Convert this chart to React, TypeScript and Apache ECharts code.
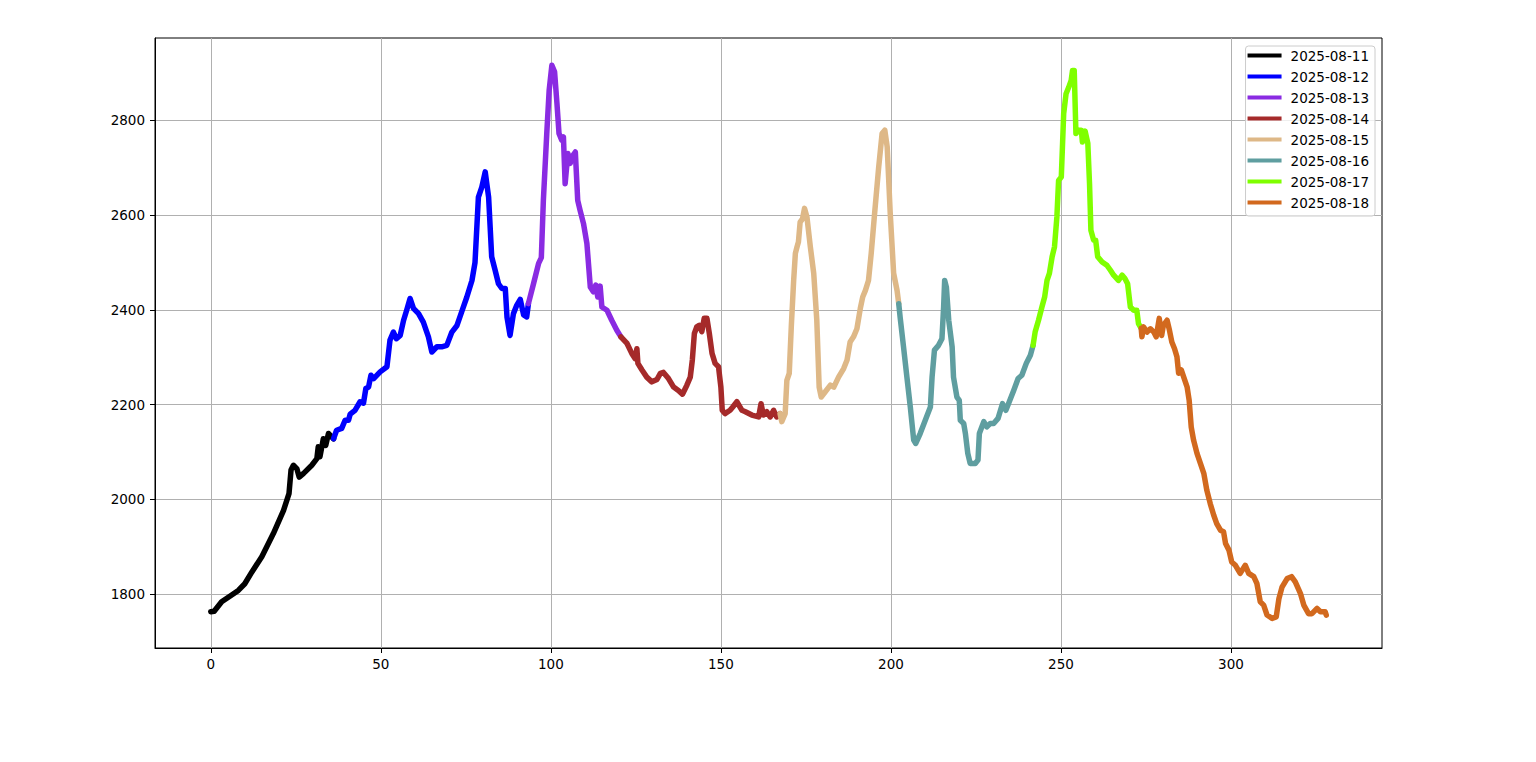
import React, { useEffect, useRef } from "react";
import * as echarts from "echarts";

const dayNames = ["2025-08-11", "2025-08-12", "2025-08-13", "2025-08-14", "2025-08-15", "2025-08-16", "2025-08-17", "2025-08-18"];
const dayColors = ["#000000", "#0000ff", "#8a2be2", "#a52a2a", "#deb887", "#5f9ea0", "#7fff00", "#d2691e"];

const xTicks = [0, 50, 100, 150, 200, 250, 300];
const yTicks = [1800, 2000, 2200, 2400, 2600, 2800];

const d0811: [number, number][] = [
  [0, 1763], [1, 1764], [3.2, 1784], [5.5, 1795], [8.1, 1808], [10, 1822], [12.1, 1847], [15, 1879],
  [18.4, 1928], [21.4, 1977], [23, 2012], [23.6, 2062], [24.3, 2072], [25.3, 2065], [26, 2047],
  [27.3, 2055], [29.7, 2072], [31.2, 2086], [31.6, 2111], [32.1, 2090], [33.1, 2128], [33.8, 2114],
  [34.6, 2139], [36.1, 2128],
];
const d0812: [number, number][] = [
  [36.1, 2128], [37, 2146], [38.5, 2150], [39.5, 2167], [40.5, 2167], [41, 2180], [42.4, 2188],
  [43.9, 2206], [44.9, 2203], [45.6, 2234], [46.4, 2237], [47.1, 2262], [47.9, 2255], [49.8, 2269],
  [51.8, 2280], [52.7, 2336], [53.7, 2353], [54.6, 2339], [55.7, 2346], [56.7, 2378], [57.6, 2399],
  [58.6, 2424], [59.6, 2403], [61.1, 2392], [62.5, 2374], [64, 2343], [65, 2311], [66.5, 2322],
  [67.9, 2322], [69.4, 2325], [70.9, 2353], [72.4, 2367], [73.8, 2396], [75.3, 2427], [76.8, 2462],
  [77.7, 2500], [78.7, 2638], [79.7, 2659], [80.7, 2691], [81.7, 2638], [82.6, 2512], [83.6, 2484],
  [84.6, 2455], [85.6, 2445], [86.6, 2445], [87.1, 2385], [88, 2346], [89, 2392], [90, 2410],
  [91, 2422], [92, 2389], [92.9, 2385], [93.4, 2413],
];
const d0813: [number, number][] = [
  [93.4, 2413], [94.9, 2455], [96.4, 2498], [97.2, 2510], [97.8, 2631], [98.8, 2772], [99.5, 2863],
  [100.3, 2916], [101.1, 2902], [101.8, 2835], [102.4, 2772], [103.2, 2758], [103.7, 2765],
  [104.2, 2666], [105, 2730], [105.7, 2709], [106.2, 2723], [107.2, 2733], [107.9, 2631],
  [108.6, 2610], [109.6, 2582], [110.6, 2540], [111.6, 2448], [112.5, 2438], [113.2, 2452],
  [113.8, 2427], [114.5, 2450], [115, 2406], [116.5, 2399], [117.9, 2378], [119.4, 2357], [120.6, 2343],
];
const d0814: [number, number][] = [
  [120.6, 2343], [122.4, 2329], [123.8, 2308], [124.8, 2297], [125.3, 2318], [125.6, 2287],
  [126.8, 2273], [128.2, 2258], [129.7, 2248], [131.2, 2253], [132.2, 2266], [133.1, 2268],
  [134.6, 2255], [136.1, 2237], [137.5, 2230], [138.7, 2222], [140, 2241], [141, 2258], [141.6, 2294],
  [142.2, 2350], [142.9, 2364], [143.6, 2367], [144.4, 2354], [145.1, 2382], [145.9, 2382],
  [146.6, 2350], [147.4, 2308], [148.3, 2287], [149.3, 2280], [150, 2237], [150.4, 2188],
  [151.2, 2181], [152.7, 2188], [153.5, 2195], [154.7, 2206], [156.2, 2188], [157.2, 2185],
  [159.1, 2178], [161.1, 2174], [161.8, 2202], [162.5, 2178], [163.5, 2185], [164.5, 2174],
  [165.5, 2188], [166.4, 2174], [167.4, 2181],
];
const d0815: [number, number][] = [
  [167.4, 2181], [167.9, 2164], [168.9, 2181], [169.4, 2251], [170.1, 2266], [170.7, 2364],
  [171.4, 2462], [171.9, 2519], [172.4, 2533], [172.8, 2543], [173.3, 2585], [174, 2592],
  [174.6, 2614], [175.3, 2596], [176.3, 2533], [177.3, 2477], [178.2, 2378], [178.9, 2237],
  [179.5, 2216], [180.7, 2227], [182.2, 2241], [183.2, 2237], [184.6, 2258], [186.1, 2276],
  [187.1, 2294], [188, 2332], [189, 2343], [190, 2360], [191, 2403], [191.7, 2427], [192.5, 2441],
  [193.4, 2462], [194.2, 2519], [195.2, 2603], [196.4, 2701], [197.4, 2772], [198.2, 2779],
  [198.9, 2744], [199.8, 2603], [200.8, 2477], [201.8, 2441], [202.3, 2413],
];
const d0816: [number, number][] = [
  [202.3, 2413], [202.7, 2385], [203.7, 2322], [204.7, 2258], [205.7, 2195], [206.7, 2125],
  [207.3, 2118], [208.6, 2139], [210.1, 2167], [211.6, 2195], [212.1, 2258], [212.8, 2315],
  [214, 2325], [215, 2339], [215.5, 2406], [215.8, 2462], [216.3, 2448], [217, 2378], [218, 2322],
  [218.4, 2258], [219.4, 2216], [220.1, 2209], [220.4, 2167], [221.4, 2160], [221.9, 2139],
  [222.6, 2097], [223.3, 2076], [224.8, 2076], [225.6, 2083], [226, 2139], [227.3, 2164],
  [228.2, 2153], [229.2, 2160], [230.2, 2160], [231.5, 2171], [232.8, 2202], [233.8, 2188],
  [234.8, 2206], [236.1, 2230], [237.4, 2255], [238.5, 2262], [239.8, 2287], [241, 2304], [241.8, 2325],
];
const d0817: [number, number][] = [
  [241.8, 2325], [242.4, 2353], [243.4, 2378], [244.4, 2406], [245.2, 2427], [245.9, 2462],
  [246.6, 2477], [247.4, 2512], [248.1, 2533], [248.8, 2596], [249.3, 2673], [250.1, 2680],
  [250.8, 2814], [251.5, 2856], [252.3, 2870], [253, 2884], [253.4, 2905], [253.9, 2905],
  [254.4, 2772], [255.2, 2779], [256, 2779], [256.3, 2754], [257.1, 2777], [257.9, 2751],
  [258.4, 2666], [258.8, 2568], [259.6, 2547], [260.2, 2547], [260.8, 2512], [262.1, 2501],
  [263.5, 2494], [264.5, 2484], [265.5, 2473], [266.9, 2462], [268, 2473], [268.8, 2466],
  [269.6, 2455], [270.4, 2406], [271.4, 2399], [272.3, 2399], [272.8, 2371], [273.6, 2361],
];
const d0818: [number, number][] = [
  [273.6, 2361], [273.8, 2343], [274.3, 2364], [275.3, 2353], [276.3, 2360], [277.3, 2353],
  [278, 2343], [278.9, 2382], [279.6, 2346], [280.1, 2367], [281.2, 2378], [281.9, 2357],
  [282.6, 2332], [283.4, 2318], [284.1, 2301], [284.6, 2266], [285.4, 2273], [286.1, 2258],
  [287.1, 2237], [287.7, 2209], [288.3, 2153], [289, 2125], [290, 2097], [291, 2076], [292, 2055],
  [292.9, 2019], [293.9, 1991], [294.9, 1967], [295.8, 1949], [296.9, 1935], [297.8, 1932],
  [298.4, 1907], [299.4, 1893], [300.2, 1868], [301.3, 1861], [302.7, 1844], [304.2, 1861],
  [305.2, 1844], [306.7, 1837], [307.6, 1823], [308.6, 1784], [309.6, 1777], [310.6, 1756],
  [312.1, 1749], [313.3, 1752], [314.1, 1791], [315, 1815], [316.5, 1833], [317.8, 1837],
  [318.9, 1826], [320.4, 1802], [321.4, 1777], [322.8, 1759], [323.8, 1759], [325.3, 1770],
  [326.3, 1763], [327.7, 1763], [328, 1756],
];

const dayData = [d0811, d0812, d0813, d0814, d0815, d0816, d0817, d0818];

const FONT = "DejaVu Sans";

export default function App() {
  const ref = useRef<HTMLDivElement>(null);
  useEffect(() => {
    if (!ref.current) return;
    const chart = echarts.init(ref.current, null, { renderer: "svg" });
    const axisCommon = {
      axisLine: { show: true, onZero: false, lineStyle: { color: "#000", width: 1 } },
      axisTick: { show: true, inside: false, length: 5, lineStyle: { color: "#000", width: 1 } },
      splitLine: { show: true, lineStyle: { color: "#b0b0b0", width: 1 } },
    };
    const plain = (v: number) => String(v);
    chart.setOption({
      animation: false,
      backgroundColor: "#ffffff",
      grid: {
        left: 155, top: 38, right: 154, bottom: 114,
        show: true, borderColor: "#000", borderWidth: 1, containLabel: false,
      },
      xAxis: {
        type: "value", min: -16.4, max: 344.4,
        ...axisCommon,
        axisTick: { ...axisCommon.axisTick, customValues: xTicks },
        axisLabel: { customValues: xTicks, formatter: plain, color: "#000", fontFamily: FONT, fontSize: 13.5, margin: 9 },
      },
      yAxis: {
        type: "value", min: 1686.5, max: 2973.5,
        ...axisCommon,
        axisTick: { ...axisCommon.axisTick, customValues: yTicks },
        axisLabel: { customValues: yTicks, formatter: plain, color: "#000", fontFamily: FONT, fontSize: 13.5, margin: 10 },
      },
      legend: {
        show: true,
        orient: "vertical",
        right: 161,
        top: 46,
        selectedMode: false,
        icon: "rect",
        itemWidth: 34,
        itemHeight: 4,
        itemGap: 6,
        padding: [2, 6, 6, 2],
        backgroundColor: "rgba(255,255,255,0.8)",
        borderColor: "#cccccc",
        borderWidth: 1,
        borderRadius: 3,
        textStyle: { color: "#000", fontFamily: FONT, fontSize: 13.5, lineHeight: 15, padding: [0, 0, 0, 4] },
        data: dayNames,
      },
      series: dayData.map((d, i) => ({
        name: dayNames[i],
        type: "line",
        data: d,
        showSymbol: false,
        symbol: "none",
        color: dayColors[i],
        lineStyle: { color: dayColors[i], width: 5.5, cap: "round", join: "round" },
        z: 2 + i,
      })),
    });
    return () => chart.dispose();
  }, []);
  return <div ref={ref} style={{ position: "absolute", left: 0, top: 0, width: 1536, height: 762 }} />;
}
